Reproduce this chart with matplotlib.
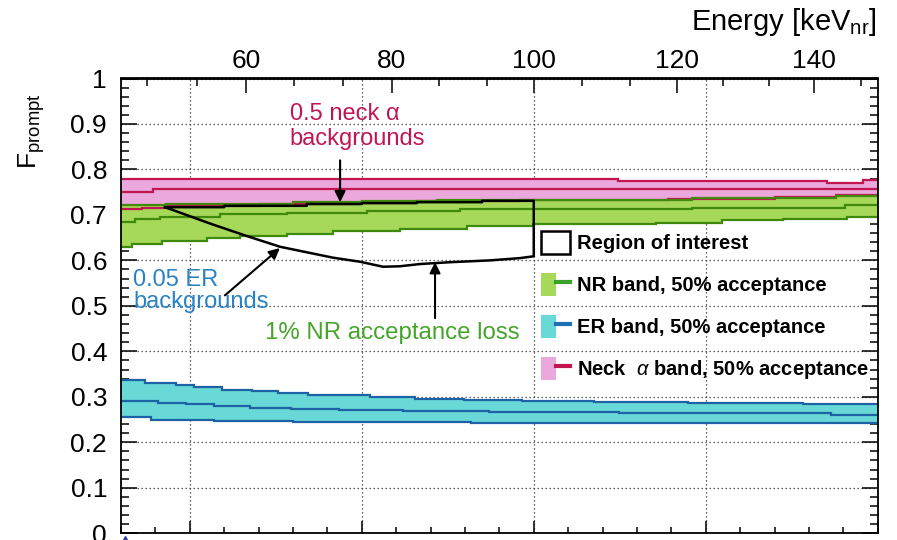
import numpy as np
import matplotlib
matplotlib.use('Agg')
import matplotlib.pyplot as plt
from matplotlib.patches import Patch
from matplotlib.lines import Line2D
from matplotlib.legend_handler import HandlerTuple
from matplotlib.ticker import MultipleLocator, FixedLocator

plt.rcParams['font.family'] = ['Liberation Sans', 'DejaVu Sans']
plt.rcParams['mathtext.fontset'] = 'custom'
plt.rcParams['mathtext.rm'] = 'Liberation Sans'
plt.rcParams['mathtext.it'] = 'Liberation Sans:italic'
plt.rcParams['mathtext.bf'] = 'Liberation Sans:bold'

# ---------------- data (x in PE, y = Fprompt) ----------------
er_hi_edges = [80, 87.1, 96.0, 101.2, 109.3, 118.2, 125.6, 134.5, 143.4, 152.3, 165.6, 179.7, 196.7, 217.5, 244.9, 278.2, 300]
er_hi_vals = [0.337, 0.331, 0.326, 0.322, 0.316, 0.313, 0.309, 0.305, 0.303, 0.300, 0.296, 0.293, 0.291, 0.289, 0.286, 0.284]
er_mid_edges = [80, 90.8, 99.0, 107.1, 117.5, 129.3, 143.4, 161.9, 187.1, 224.9, 286.4, 300]
er_mid_vals = [0.291, 0.286, 0.284, 0.280, 0.276, 0.273, 0.2705, 0.268, 0.2655, 0.264, 0.260]
er_lo_edges = [80, 88.6, 107.1, 130.1, 181.9, 300]
er_lo_vals = [0.2545, 0.2495, 0.246, 0.2436, 0.2415]

na_hi_edges = [80, 104.9, 224.6, 285.2, 295.8, 300]
na_hi_vals = [0.780, 0.778, 0.774, 0.770, 0.776]
na_mid_edges = [80, 89.4, 130, 300]
na_mid_vals = [0.751, 0.7565, 0.758]
na_lo_edges = [80, 86, 93, 120, 149, 166, 196, 239, 270, 288, 300]
na_lo_vals = [0.712, 0.716, 0.720, 0.724, 0.727, 0.730, 0.733, 0.736, 0.740, 0.743]

nr_hi_edges = [80, 93, 130, 150, 172, 246, 288, 300]
nr_hi_vals = [0.721, 0.725, 0.728, 0.731, 0.733, 0.738, 0.742]
nr_mid_edges = [80, 84, 91.4, 108.8, 128.2, 151.4, 178.6, 246, 290.5, 300]
nr_mid_vals = [0.685, 0.690, 0.696, 0.701, 0.705, 0.709, 0.712, 0.716, 0.721]
nr_lo_edges = [80, 83.1, 91.8, 104.9, 114.6, 128.2, 141.7, 161.1, 180.5, 199.9, 235.4, 254.7, 272.6, 291, 300]
nr_lo_vals = [0.630, 0.635, 0.643, 0.650, 0.654, 0.659, 0.664, 0.669, 0.675, 0.680, 0.683, 0.688, 0.691, 0.695]

roi_top_edges = [92.8, 110, 134, 150, 166, 185, 200]
roi_top_vals = [0.717, 0.720, 0.724, 0.726, 0.728, 0.731]
roi_bot_pe = [92.8, 105.9, 116, 126.2, 141.6, 149.5, 156.2, 161, 167, 175.7, 187.3, 196, 200]
roi_bot_f = [0.717, 0.681, 0.655, 0.630, 0.606, 0.597, 0.586, 0.587, 0.592, 0.596, 0.600, 0.605, 0.609]

# small marker visible at the lower-left corner
corner_marker_pe = [81.2]
corner_marker_f = [-0.012]

# energy calibration (PE <-> keVnr) for the top axis
cal_pe = [73.4, 116.3, 158.7, 200.2, 241.7, 281.6, 322.3]
cal_e = [40, 60, 80, 100, 120, 140, 160]

legend_labels = ['Region of interest', 'NR band, 50% acceptance',
                 'ER band, 50% acceptance', r'Neck  $\alpha$ band, 50% acceptance']

# ---------------- colours ----------------
nr_fill, nr_line = '#a6d85a', '#3f8a0a'
er_fill, er_line = '#68d9d6', '#1e62a6'
na_fill, na_line = '#eaa8dc', '#c21650'

fig = plt.figure(figsize=(8.97, 5.40), dpi=100)
ax = fig.add_axes([121/897, 1-533.2/540, (877.7-121)/897, (533.2-78.5)/540])
ax.set_xlim(80, 300)
ax.set_ylim(0, 1)


def step_xy(edges, vals):
    x = np.repeat(np.asarray(edges, float), 2)[1:-1]
    y = np.repeat(np.asarray(vals, float), 2)
    return x, y


def step_on(grid, edges, vals):
    idx = np.searchsorted(np.asarray(edges), grid, side='right') - 1
    idx = np.clip(idx, 0, len(vals) - 1)
    return np.asarray(vals)[idx]


def band(hi, mid, lo, fill, line):
    grid = np.unique(np.concatenate([hi[0], lo[0]]))
    gx = np.repeat(grid, 2)[1:-1]
    yh = step_on(grid[:-1], *hi)
    yl = step_on(grid[:-1], *lo)
    ax.fill_between(gx, np.repeat(yl, 2), np.repeat(yh, 2), color=fill, lw=0, zorder=1)
    return [(hi, line), (mid, line), (lo, line)]


lines = []
lines += band((na_hi_edges, na_hi_vals), (na_mid_edges, na_mid_vals), (na_lo_edges, na_lo_vals), na_fill, na_line)
lines += band((nr_hi_edges, nr_hi_vals), (nr_mid_edges, nr_mid_vals), (nr_lo_edges, nr_lo_vals), nr_fill, nr_line)
lines += band((er_hi_edges, er_hi_vals), (er_mid_edges, er_mid_vals), (er_lo_edges, er_lo_vals), er_fill, er_line)
for (e, v), c in lines:
    x, y = step_xy(e, v)
    ax.plot(x, y, color=c, lw=1.6, zorder=2, solid_joinstyle='miter')

# region of interest
tx, ty = step_xy(roi_top_edges, roi_top_vals)
rx = np.concatenate([tx, [roi_top_edges[-1]], roi_bot_pe[::-1]])
ry = np.concatenate([ty, [roi_bot_f[-1]], roi_bot_f[::-1]])
ax.plot(rx, ry, color='black', lw=1.8, zorder=4)

ax.plot(corner_marker_pe, corner_marker_f, marker='^', ms=5, color='#2a3fa0',
        ls='none', clip_on=False, zorder=6)

# grid / ticks
ax.xaxis.set_major_locator(MultipleLocator(50))
ax.xaxis.set_minor_locator(MultipleLocator(10))
ax.yaxis.set_major_locator(MultipleLocator(0.1))
ax.yaxis.set_minor_locator(MultipleLocator(0.02))
ax.grid(True, which='major', linestyle=(0, (1, 2.2)), color='#333333', lw=0.9, zorder=0.5)
ax.set_axisbelow(True)
ax.tick_params(axis='y', which='both', direction='in', left=True, right=True,
               labelsize=19, pad=10, width=1.1)
ax.tick_params(axis='y', which='major', length=11.5)
ax.tick_params(axis='y', which='minor', length=5.8)
ax.tick_params(axis='x', which='both', direction='in', bottom=True, top=False,
               labelbottom=False, width=1.1)
ax.tick_params(axis='x', which='major', length=8.6)
ax.tick_params(axis='x', which='minor', length=4.3)
ax.yaxis.set_major_formatter(matplotlib.ticker.FuncFormatter(lambda v, p: ('%g' % round(v, 2))))
for s in ax.spines.values():
    s.set_linewidth(1.3)


def pe2e(x):
    return np.interp(x, cal_pe, cal_e)


def e2pe(x):
    return np.interp(x, cal_e, cal_pe)


sec = ax.secondary_xaxis('top', functions=(pe2e, e2pe))
sec.set_xticks([60, 80, 100, 120, 140])
sec.xaxis.set_minor_locator(FixedLocator(np.arange(40, 150, 20 / 3)))
sec.tick_params(which='both', direction='in', labelsize=19, pad=4, width=1.1)
sec.tick_params(which='major', length=11)
sec.tick_params(which='minor', length=6)
sec.spines['top'].set_linewidth(1.3)

fig.text(877/897, 1 - 22/540, r'Energy [keV$_{\mathregular{nr}}$]', ha='right', va='center', fontsize=21)
fig.text(32/897, 1 - 131/540, r'F$_{\mathregular{prompt}}$', rotation=90, ha='center', va='center', fontsize=19)

# annotations
ax.text(129.1, 0.921, '0.5 neck α', color='#c21650', fontsize=17, va='center')
ax.text(129.1, 0.866, 'backgrounds', color='#c21650', fontsize=17, va='center')
ax.text(83.5, 0.5565, '0.05 ER', color='#2a82c6', fontsize=17, va='center')
ax.text(83.5, 0.508, 'backgrounds', color='#2a82c6', fontsize=17, va='center')
ax.text(121.9, 0.440, '1% NR acceptance loss', color='#45a42a', fontsize=17.3, va='center')

ap = dict(arrowstyle='-|>', mutation_scale=16, lw=1.5, color='black', shrinkA=0, shrinkB=0)
ax.annotate('', xy=(143.7, 0.728), xytext=(143.7, 0.820), arrowprops=ap, zorder=5)
ax.annotate('', xy=(126.2, 0.627), xytext=(110.2, 0.523), arrowprops=ap, zorder=5)
ax.annotate('', xy=(171.3, 0.596), xytext=(171.3, 0.473), arrowprops=ap, zorder=5)

# legend
h_roi = Patch(facecolor='none', edgecolor='black', lw=1.8)
h_nr = (Patch(facecolor=nr_fill, edgecolor='none'), Line2D([], [], color='#3aa02a', lw=3))
h_er = (Patch(facecolor=er_fill, edgecolor='none'), Line2D([], [], color='#1f6fb4', lw=3))
h_na = (Patch(facecolor=na_fill, edgecolor='none'), Line2D([], [], color=na_line, lw=3))
leg = ax.legend([h_roi, h_nr, h_er, h_na], legend_labels,
                handler_map={tuple: HandlerTuple(ndivide=None, pad=0)},
                loc='upper left', bbox_to_anchor=(541/897, 1 - 231/540),
                bbox_transform=fig.transFigure, frameon=False, borderpad=0,
                borderaxespad=0, handlelength=1.45, handleheight=1.4,
                labelspacing=0.93, handletextpad=0.35,
                prop={'weight': 'bold', 'size': 14.5})

fig.savefig('out.png', dpi=100)
